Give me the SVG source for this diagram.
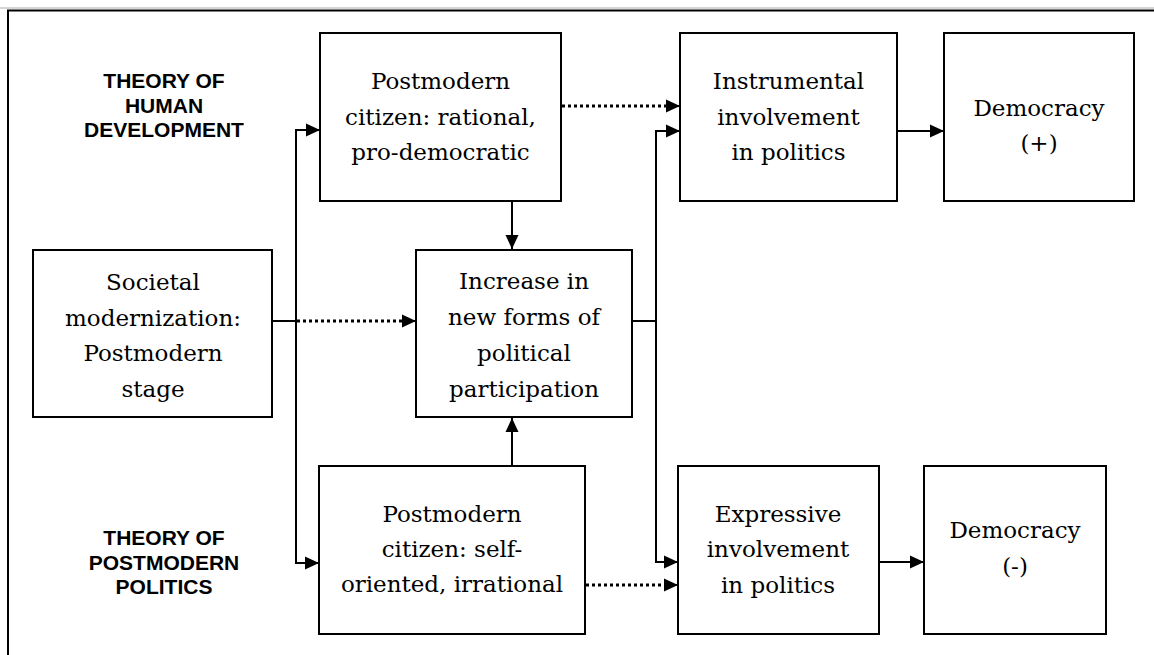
<svg xmlns="http://www.w3.org/2000/svg" width="1154" height="655" viewBox="0 0 1154 655">
  <defs>
    <marker id="arrow" viewBox="0 0 14 14" refX="14" refY="7" markerWidth="14" markerHeight="14" markerUnits="userSpaceOnUse" orient="auto">
      <path d="M0,0.5 L14,7 L0,13.5 Z" fill="#000"/>
    </marker>
    <style>
      .box { fill: #fff; stroke: #000; stroke-width: 2; }
      .lbl { font-family: "DejaVu Serif", "Liberation Serif", serif; font-size: 23px; fill: #000; text-anchor: middle; }
      .theory { font-family: "Liberation Sans", Arial, sans-serif; font-weight: bold; font-size: 21px; fill: #000; text-anchor: middle; }
      .solid { fill: none; stroke: #000; stroke-width: 2; }
      .dotted { fill: none; stroke: #000; stroke-width: 3; stroke-dasharray: 3 3; }
    </style>
  </defs>

  <rect x="0" y="0" width="1154" height="655" fill="#fff"/>

  <!-- outer frame -->
  <g id="frame">
    <line x1="0" y1="8" x2="1154" y2="8" stroke="#aaa" stroke-width="1"/>
    <path d="M8,655 V10.5 H1154" fill="none" stroke="#000" stroke-width="2"/>
  </g>

  <!-- theory headings -->
  <g id="theory-human-development">
    <text class="theory" x="164" y="88">THEORY OF</text>
    <text class="theory" x="164" y="112.5">HUMAN</text>
    <text class="theory" x="164" y="137">DEVELOPMENT</text>
  </g>
  <g id="theory-postmodern-politics">
    <text class="theory" x="164" y="545">THEORY OF</text>
    <text class="theory" x="164" y="569.5">POSTMODERN</text>
    <text class="theory" x="164" y="594">POLITICS</text>
  </g>

  <!-- connectors -->
  <g id="connectors">
    <!-- societal modernization -> trunk and dotted link to participation -->
    <line class="solid" x1="272" y1="321" x2="296" y2="321"/>
    <line class="dotted" x1="297" y1="321" x2="406" y2="321"/>
    <line class="solid" x1="404" y1="321" x2="416" y2="321" marker-end="url(#arrow)"/>
    <path class="solid" d="M320,130 H296 V563 H319" marker-end="url(#arrow)"/>
    <line class="solid" x1="296" y1="130" x2="320" y2="130" marker-end="url(#arrow)"/>

    <!-- citizens -> participation -->
    <line class="solid" x1="512" y1="201" x2="512" y2="249" marker-end="url(#arrow)"/>
    <line class="solid" x1="512" y1="466" x2="512" y2="418" marker-end="url(#arrow)"/>

    <!-- participation -> involvement -->
    <line class="solid" x1="632" y1="321" x2="656" y2="321"/>
    <path class="solid" d="M680,131 H656 V562 H678" marker-end="url(#arrow)"/>
    <line class="solid" x1="656" y1="131" x2="680" y2="131" marker-end="url(#arrow)"/>

    <!-- dotted citizen -> involvement -->
    <line class="dotted" x1="562" y1="106" x2="670" y2="106"/>
    <line class="solid" x1="668" y1="106" x2="680" y2="106" marker-end="url(#arrow)"/>
    <line class="dotted" x1="586" y1="585" x2="668" y2="585"/>
    <line class="solid" x1="666" y1="585" x2="678" y2="585" marker-end="url(#arrow)"/>

    <!-- involvement -> democracy -->
    <line class="solid" x1="897" y1="131" x2="944" y2="131" marker-end="url(#arrow)"/>
    <line class="solid" x1="879" y1="562" x2="924" y2="562" marker-end="url(#arrow)"/>
  </g>

  <!-- nodes -->
  <g id="societal-modernization">
    <rect class="box" x="33" y="250" width="239" height="167"/>
    <text class="lbl" x="153" y="290">Societal</text>
    <text class="lbl" x="153" y="325.5">modernization:</text>
    <text class="lbl" x="153" y="361">Postmodern</text>
    <text class="lbl" x="153" y="396.5">stage</text>
  </g>

  <g id="citizen-rational">
    <rect class="box" x="320" y="33" width="241" height="168"/>
    <text class="lbl" x="440.5" y="89">Postmodern</text>
    <text class="lbl" x="440.5" y="124.5">citizen: rational,</text>
    <text class="lbl" x="440.5" y="160">pro-democratic</text>
  </g>

  <g id="new-participation">
    <rect class="box" x="416" y="250" width="216" height="167"/>
    <text class="lbl" x="524" y="289">Increase in</text>
    <text class="lbl" x="524" y="325">new forms of</text>
    <text class="lbl" x="524" y="361">political</text>
    <text class="lbl" x="524" y="397">participation</text>
  </g>

  <g id="citizen-self-oriented">
    <rect class="box" x="319" y="466" width="266" height="168"/>
    <text class="lbl" x="452" y="521.5">Postmodern</text>
    <text class="lbl" x="452" y="557">citizen: self-</text>
    <text class="lbl" x="452" y="592">oriented, irrational</text>
  </g>

  <g id="instrumental-involvement">
    <rect class="box" x="680" y="33" width="217" height="168"/>
    <text class="lbl" x="788.5" y="89">Instrumental</text>
    <text class="lbl" x="788.5" y="124.5">involvement</text>
    <text class="lbl" x="788.5" y="160">in politics</text>
  </g>

  <g id="expressive-involvement">
    <rect class="box" x="678" y="466" width="201" height="168"/>
    <text class="lbl" x="778" y="521.5">Expressive</text>
    <text class="lbl" x="778" y="557">involvement</text>
    <text class="lbl" x="778" y="592.5">in politics</text>
  </g>

  <g id="democracy-positive">
    <rect class="box" x="944" y="33" width="190" height="168"/>
    <text class="lbl" x="1039" y="115.5">Democracy</text>
    <text class="lbl" x="1039" y="150.5">(+)</text>
  </g>

  <g id="democracy-negative">
    <rect class="box" x="924" y="466" width="182" height="168"/>
    <text class="lbl" x="1015" y="538">Democracy</text>
    <text class="lbl" x="1015" y="574">(-)</text>
  </g>
</svg>
